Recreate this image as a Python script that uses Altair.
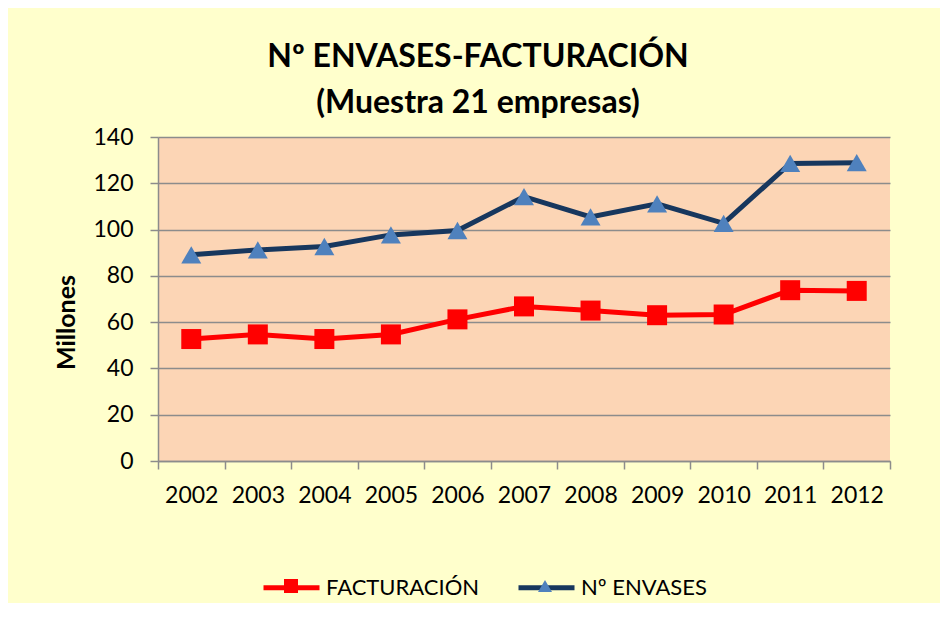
import altair as alt
import pandas as pd

years = [2002, 2003, 2004, 2005, 2006, 2007, 2008, 2009, 2010, 2011, 2012]
facturacion = [52.7, 54.7, 52.7, 54.7, 61.2, 66.8, 65.0, 63.0, 63.3, 73.8, 73.5]
envases = [89.1, 91.2, 92.7, 97.7, 99.6, 114.2, 105.5, 111.1, 102.7, 128.6, 128.9]
series = ["FACTURACIÓN", "Nº ENVASES"]
title_lines = ["Nº ENVASES-FACTURACIÓN", "(Muestra 21 empresas)"]
y_ticks = [0, 20, 40, 60, 80, 100, 120, 140]

# marker legend uses a distinct (invisibly padded) domain so Vega-Lite does not merge it
# with the line legend; its labels are transparent and only keep the spacing.
series_m = [s + " " for s in series]

rows = []
for y, f, e in zip(years, facturacion, envases):
    rows.append({"year": y, "serie": series[0], "serie_m": series_m[0], "value": f})
    rows.append({"year": y, "serie": series[1], "serie_m": series_m[1], "value": e})
df = pd.DataFrame(rows)

FONT = "Lato"
GRID = "#8c8c8c"
W, H = 732, 324
bounds = [years[0] - 0.5 + i for i in range(len(years) + 1)]
half_band = W / len(years) / 2

x_scale = alt.Scale(domain=[years[0] - 0.5, years[-1] + 0.5], nice=False, zero=False)
x_enc = alt.X(
    "year:Q",
    scale=x_scale,
    axis=alt.Axis(values=bounds, title=None, ticks=True, tickSize=8, tickColor=GRID,
                  tickWidth=1.5, domain=True, domainColor=GRID, domainWidth=1.5, grid=False,
                  labelExpr=f"datum.value > {years[-1]} ? '' : format(datum.value + 0.5, 'd')",
                  labelOffset=half_band, labelFont=FONT, labelFontSize=23,
                  labelColor="black", labelPadding=15, labelFlush=False, labelOverlap=False),
)
y_enc = alt.Y(
    "value:Q",
    scale=alt.Scale(domain=[0, 140], nice=False),
    axis=alt.Axis(values=y_ticks, title="Millones", titleFont=FONT, titleFontSize=25,
                  titleFontWeight="bold", titleColor="black", titleX=-92, titleY=185,
                  titleBaseline="middle", titleAlign="center",
                  labelFont=FONT, labelFontSize=23, labelColor="black", labelPadding=17,
                  tickSize=8, tickColor=GRID, tickWidth=1.5, domainColor=GRID, domainWidth=1.5,
                  grid=True, gridColor=GRID, gridWidth=1.5),
)

line = alt.Chart(df).mark_line(strokeWidth=5).encode(
    x=x_enc,
    y=y_enc,
    stroke=alt.Stroke(
        "serie:N",
        scale=alt.Scale(domain=series, range=["#FF0000", "#17375E"]),
        legend=alt.Legend(orient="none", legendX=103, legendY=420, direction="horizontal",
                          title=None, symbolType="stroke", symbolSize=3136,
                          symbolStrokeWidth=5, labelFont=FONT, labelFontSize=22,
                          labelLimit=400, labelColor="black", labelOffset=4, columnPadding=28),
    ),
)

marker_legend = alt.Legend(orient="none", legendX=122, legendY=438, direction="horizontal",
                           title=None, symbolSize=196, symbolStrokeWidth=0,
                           labelFont=FONT, labelFontSize=22, labelLimit=400,
                           labelColor="rgba(0,0,0,0)",
                           labelOffset=46, columnPadding=32)

points = alt.Chart(df).mark_point(filled=True, size=400, opacity=1).encode(
    x=alt.X("year:Q", scale=x_scale),
    y=alt.Y("value:Q"),
    fill=alt.Fill(
        "serie_m:N",
        scale=alt.Scale(domain=series_m, range=["#FF0000", "#4F81BD"]),
        legend=marker_legend,
    ),
    shape=alt.Shape(
        "serie_m:N",
        scale=alt.Scale(domain=series_m, range=["square", "triangle-up"]),
        legend=marker_legend,
    ),
)

chart = alt.layer(line, points).resolve_scale(stroke="independent", fill="independent",
                                             shape="independent").properties(
    width=W,
    height=H,
    background="#FFFFCC",
    padding={"left": 150, "top": 129, "right": 50, "bottom": 142},
    autosize=alt.AutoSizeParams(type="none"),
    title=alt.TitleParams(text=title_lines, font=FONT, fontSize=32, fontWeight="bold",
                          color="black", anchor="middle", frame="group", dx=-46,
                          lineHeight=46, offset=6),
).configure_view(fill="#FCD5B5", stroke=None)

chart.save("out.html", embed_options={"renderer": "svg", "actions": False})
